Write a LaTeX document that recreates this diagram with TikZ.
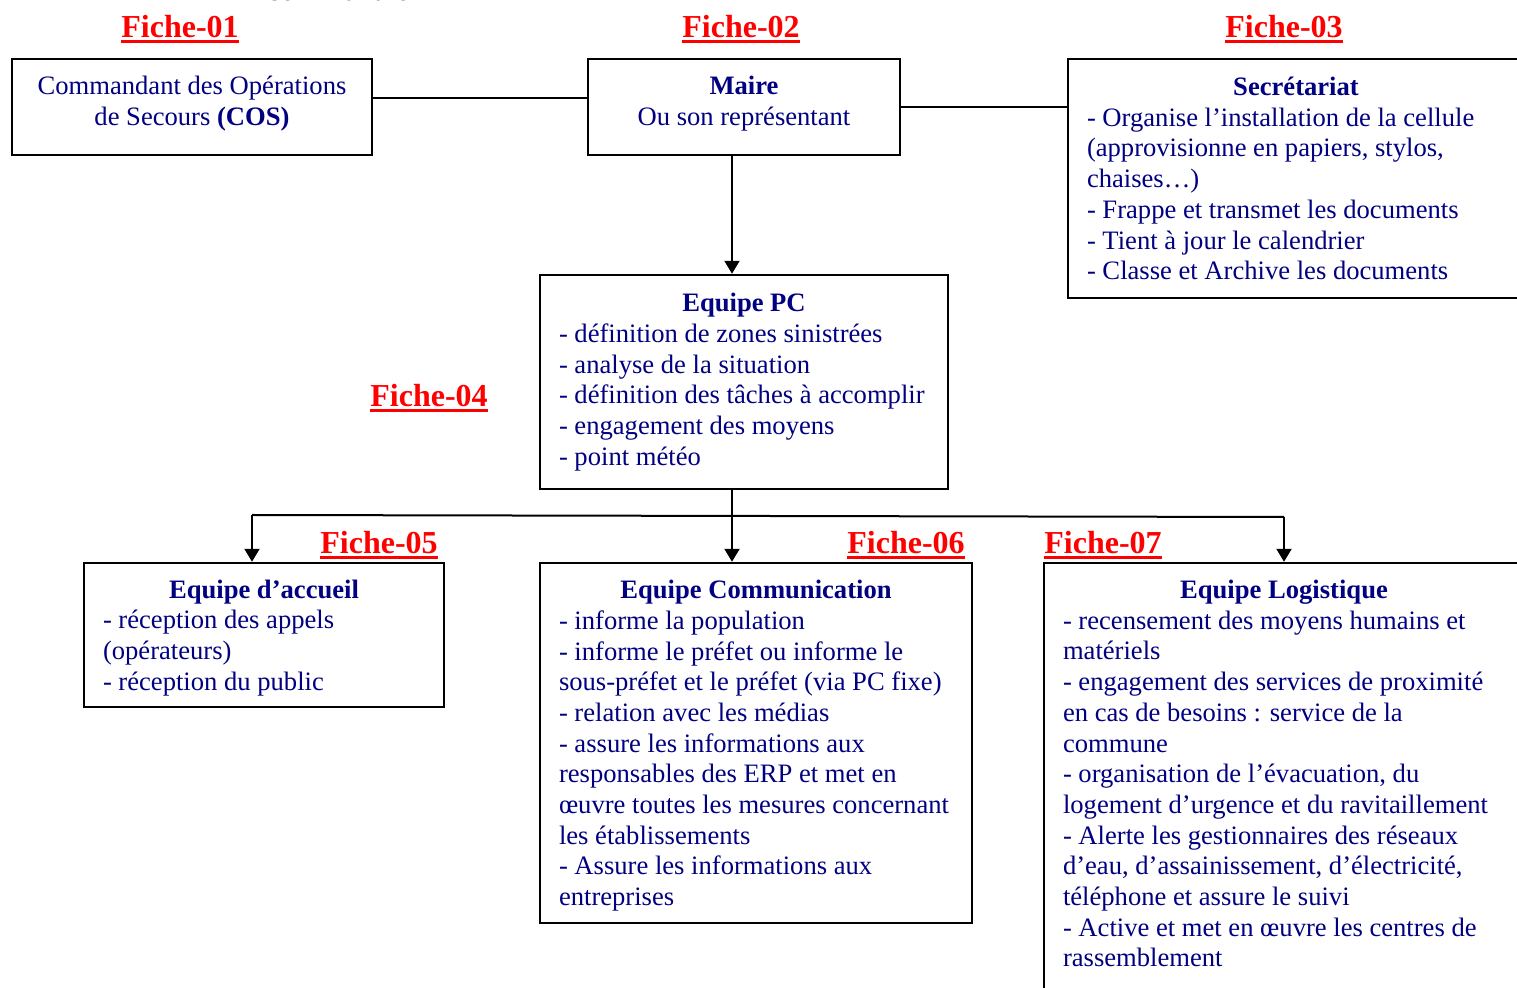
\documentclass[tikz,border=0pt]{standalone}
\usepackage{fontspec}
\setmainfont{Liberation Serif}
\usepackage{xcolor}
\usetikzlibrary{arrows.meta}
\definecolor{navytxt}{RGB}{0,0,128}
\newcommand{\ficheul}[1]{\setbox0=\hbox{#1}\rlap{\copy0}\rule[-2.6pt]{\wd0}{1.6pt}}

\begin{document}
\begin{tikzpicture}[x=0.5pt,y=-0.5pt,
    box/.style={draw, line width=1.2pt, text=navytxt, inner sep=0pt,
        font=\fontsize{13.3pt}{15.35pt}\selectfont},
    listbox/.style={box, align=flush left},
    fiche/.style={anchor=base, inner sep=0pt, text=red,
        font=\fontsize{16pt}{18pt}\selectfont\bfseries},
    link/.style={line width=1pt},
    arrow/.style={link, -{Triangle[length=6.5pt,width=7.5pt]}}]
    \useasboundingbox (0,0) rectangle (1517,988);
    \clip (0,0) rectangle (1517,988);

    \node[anchor=base, inner sep=0pt, font=\fontsize{15.3pt}{17pt}\selectfont] (titre) at (338,1) {communale};

    \node[box, align=flush center, minimum width=180pt, minimum height=48pt] (cos) at (192,107)
        {Commandant des Opérations\\de Secours \textbf{(COS)}\rule[-6pt]{0pt}{0pt}};
    \node[box, align=flush center, minimum width=156pt, minimum height=48pt] (maire) at (744,107)
        {\textbf{Maire}\\Ou son représentant\rule[-6pt]{0pt}{0pt}};
    \node[listbox, text width=209pt, minimum width=228pt, minimum height=119.5pt] (secr) at (1296,178.5)
        {{\centering\textbf{Secrétariat}\par}
        - Organise l’installation de la cellule\\
        (approvisionne en papiers, stylos,\\
        chaises…)\\
        - Frappe et transmet les documents\\
        - Tient à jour le calendrier\\
        - Classe et Archive les documents};
    \node[listbox, text width=185pt, minimum width=204pt, minimum height=107pt] (pc) at (744,382)
        {{\centering\textbf{Equipe PC}\par}
        - définition de zones sinistrées\\
        - analyse de la situation\\
        - définition des tâches à accomplir\\
        - engagement des moyens\\
        - point météo};
    \node[listbox, text width=161pt, minimum width=180pt, minimum height=72pt] (accueil) at (264,635)
        {{\centering\rule{0pt}{12pt}\textbf{Equipe d’accueil}\par}
        - réception des appels\\
        (opérateurs)\\
        - réception du public};
    \node[listbox, text width=197pt, minimum width=216pt, minimum height=180pt] (comm) at (756,743)
        {{\centering\rule{0pt}{12pt}\textbf{Equipe Communication}\par}
        - informe la population\\
        - informe le préfet ou informe le\\
        sous-préfet et le préfet (via PC fixe)\\
        - relation avec les médias\\
        - assure les informations aux\\
        responsables des ERP et met en\\
        œuvre toutes les mesures concernant\\
        les établissements\\
        - Assure les informations aux\\
        entreprises};
    \node[listbox, text width=221pt, minimum width=240pt, minimum height=213.5pt] (logi) at (1284,776.5)
        {{\centering\textbf{Equipe Logistique}\par}
        - recensement des moyens humains et\\
        matériels\\
        - engagement des services de proximité\\
        en cas de besoins : service de la\\
        commune\\
        - organisation de l’évacuation, du\\
        logement d’urgence et du ravitaillement\\
        - Alerte les gestionnaires des réseaux\\
        d’eau, d’assainissement, d’électricité,\\
        téléphone et assure le suivi\\
        - Active et met en œuvre les centres de\\
        rassemblement\rule[-3pt]{0pt}{0pt}};

    \node[fiche] (f01) at (180,38) {\ficheul{Fiche-01}};
    \node[fiche] (f02) at (741,38) {\ficheul{Fiche-02}};
    \node[fiche] (f03) at (1284,38) {\ficheul{Fiche-03}};
    \node[fiche] (f04) at (429,407) {\ficheul{Fiche-04}};
    \node[fiche] (f05) at (379,554) {\ficheul{Fiche-05}};
    \node[fiche] (f06) at (906,554) {\ficheul{Fiche-06}};
    \node[fiche] (f07) at (1103,554) {\ficheul{Fiche-07}};

    \coordinate (busL) at (252,515);
    \coordinate (bus) at (732,516);
    \coordinate (busR) at (1284,517);

    \draw[link] ([yshift=4.5pt]cos.east) -- ([yshift=4.5pt]maire.west);
    \draw[link] (maire.east) -- (maire.east -| secr.west);
    \draw[arrow] ([xshift=-6pt]maire.south) -- ([xshift=-6pt]pc.north);
    \draw[link] ([xshift=-6pt]pc.south) -- (bus);
    \draw[link] (busL) -- (busR);
    \draw[arrow] (busL) -- (busL |- accueil.north);
    \draw[arrow] (bus) -- (bus |- comm.north);
    \draw[arrow] (busR) -- (busR |- logi.north);
\end{tikzpicture}
\end{document}
